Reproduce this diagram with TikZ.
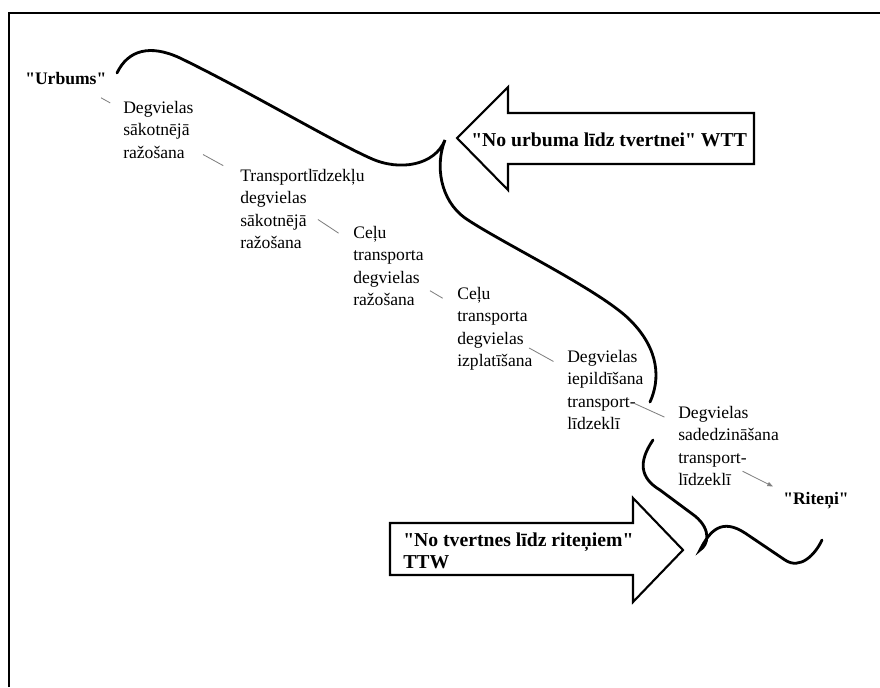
\documentclass[tikz,border=0pt]{standalone}
\usepackage{fontspec}
\setmainfont{Liberation Serif}[Ligatures=TeXOff]
\usetikzlibrary{arrows.meta,calc}

\begin{document}
\begin{tikzpicture}[
  x=0.025cm, y=-0.025cm,
  stage/.style={anchor=north west, inner sep=0pt, align=left,
                font=\fontsize{12.5}{16}\selectfont},
  endpt/.style={anchor=base west, inner sep=0pt,
                font=\fontsize{12.5}{15}\selectfont\bfseries},
  arrlbl/.style={inner sep=0pt, align=left,
                 font=\fontsize{14}{15}\selectfont\bfseries},
  curl/.style={line width=2pt, line cap=round},
  fatarrow/.style={draw, line width=1.5pt, line join=miter},
  link/.style={draw=gray, line width=0.6pt},
  boxline/.style={line width=1.5pt}
]
  \useasboundingbox (0,0) rectangle (880,687);
  \draw[boxline] (9,687) -- (9,13) -- (880,13);

  \node[endpt] (ur)  at (25,84)   {"Urbums"};
  \node[stage] (p1)  at (123,101) {Degvielas\\sākotnējā\\ražošana};
  \node[stage] (p2)  at (240,169) {Transportlīdzekļu\\degvielas\\sākotnējā\\ražošana};
  \node[stage] (p3)  at (353,226) {Ceļu\\transporta\\degvielas\\ražošana};
  \node[stage] (p4)  at (457,287) {Ceļu\\transporta\\degvielas\\izplatīšana};
  \node[stage] (p5)  at (567,350) {Degvielas\\iepildīšana\\transport-\\līdzeklī};
  \node[stage] (p6)  at (678,406) {Degvielas\\sadedzināšana\\transport-\\līdzeklī};
  \node[endpt] (rit) at (783,504) {"Riteņi"};

  \draw[link] ($(ur)!.38!(p1)$) -- ($(ur)!.48!(p1)$);
  \draw[link] ($(p1)!.31!(p2)$) -- ($(p1)!.45!(p2)$);
  \draw[link] ($(p2)!.18!(p3)$) -- ($(p2)!.42!(p3)$);
  \draw[link] ($(p3)!.39!(p4)$) -- ($(p3)!.51!(p4)$);
  \draw[link] ($(p4)!.31!(p5)$) -- ($(p4)!.53!(p5)$);
  \draw[link] ($(p5)!.23!(p6)$) -- ($(p5)!.48!(p6)$);
  \draw[link, -{Triangle[length=4pt,width=3pt]}]
    ([shift={(14,25)}]p6.center) -- ([shift={(-10,-5)}]rit.north west);

  % WTT arrow
  \draw[fatarrow] (457,138) -- (508,87) -- (508,113) -- (754,113)
    -- (754,164) -- (508,164) -- (508,190) -- cycle;
  \node[arrlbl, anchor=base west] (wtt) at (471,146)
    {"No urbuma līdz tvertnei" WTT};

  % TTW arrow
  \draw[fatarrow] (390,523) -- (633,523) -- (633,498) -- (683,550)
    -- (633,602) -- (633,575) -- (390,575) -- cycle;
  \node[arrlbl, anchor=north west] (ttw) at (403,533)
    {"No tvertnes līdz riteņiem"\\TTW};

  % braces
  \draw[curl] (117,73) .. controls (128,50) and (150,44) .. (180,58)
    .. controls (250,92) and (330,140) .. (370,158)
    .. controls (400,172) and (435,165) .. (445,140)
    .. controls (435,165) and (440,200) .. (465,218)
    .. controls (500,242) and (600,290) .. (630,320)
    .. controls (660,350) and (660,380) .. (650,402);
  \draw[curl] (653,440) .. controls (638,462) and (640,478) .. (660,490)
    -- (695,516) .. controls (712,530) and (708,545) .. (700,550)
    .. controls (710,530) and (722,518) .. (745,533)
    -- (785,560) .. controls (800,570) and (815,555) .. (822,540);
\end{tikzpicture}
\end{document}
